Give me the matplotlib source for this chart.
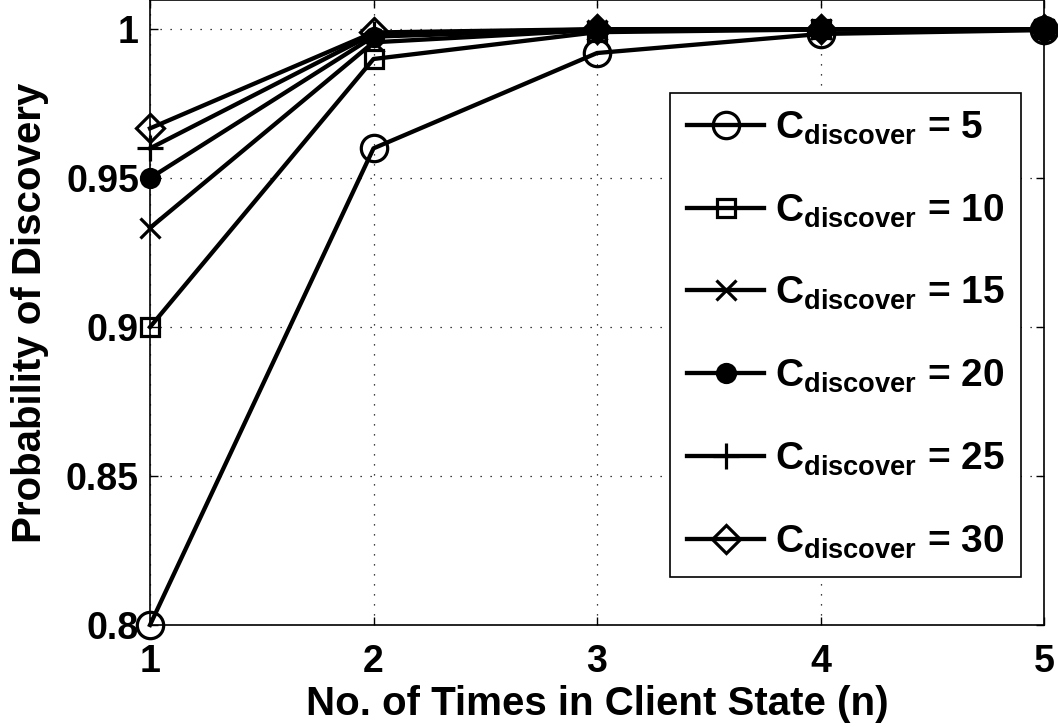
import numpy as np
import matplotlib
matplotlib.use("Agg")
import matplotlib.pyplot as plt

plt.rcParams['font.family'] = ['Liberation Sans', 'DejaVu Sans']
plt.rcParams['font.weight'] = 'bold'
plt.rcParams['mathtext.fontset'] = 'custom'
plt.rcParams['mathtext.bf'] = 'Liberation Sans:bold'
plt.rcParams['mathtext.rm'] = 'Liberation Sans:bold'
plt.rcParams['mathtext.it'] = 'Liberation Sans:bold'

# data
n_times = [1, 2, 3, 4, 5]
c_values = [5, 10, 15, 20, 25, 30]
p_c5 = [0.8, 0.96, 0.992, 0.9984, 0.9997]
p_c10 = [0.9, 0.99, 0.999, 0.9999, 1.0]
p_c15 = [0.9333, 0.9956, 0.9997, 1.0, 1.0]
p_c20 = [0.95, 0.9975, 0.9999, 1.0, 1.0]
p_c25 = [0.96, 0.9984, 0.9999, 1.0, 1.0]
p_c30 = [0.9667, 0.9989, 1.0, 1.0, 1.0]
series = [p_c5, p_c10, p_c15, p_c20, p_c25, p_c30]

y_ticks = [0.8, 0.85, 0.9, 0.95, 1.0]
y_ticklabels = ['0.8', '0.85', '0.9', '0.95', '1']

# marker, size, face
styles = [('o', 19, 'none'),
          ('s', 13, 'none'),
          ('x', 14, 'none'),
          ('o', 13, 'k'),
          ('+', 19, 'none'),
          ('D', 14, 'none')]

fig = plt.figure(figsize=(10.58, 7.27), dpi=100)
ax = fig.add_axes([150/1058, 102/727, 894/1058, 625/727])

for c, vals, (mk, ms, fc) in zip(c_values, series, styles):
    ax.plot(n_times, vals, color='k', lw=3.1, marker=mk, markersize=ms,
            markerfacecolor=fc, markeredgecolor='k', markeredgewidth=2.3,
            clip_on=False,
            label=r'$\mathbf{C}_{\mathbf{discover}}$' + ' = %d' % c)

ax.set_xlim(1, 5)
ax.set_ylim(0.8, 1.0098)
ax.set_xticks(n_times)
ax.set_yticks(y_ticks)
ax.set_yticklabels(y_ticklabels)

ax.grid(True, color='k', linestyle=(0, (1, 7)), linewidth=0.9)
ax.tick_params(direction='in', length=6, width=1, top=True, right=True,
               labelsize=27)
ax.tick_params(axis='x', pad=14)
ax.tick_params(axis='y', pad=8)
for s in ax.spines.values():
    s.set_linewidth(1.2)

ax.set_xlabel('No. of Times in Client State (n)', fontsize=29,
              fontweight='bold', labelpad=3)
ax.set_ylabel('Probability of Discovery', fontsize=29, fontweight='bold',
              labelpad=12)

leg = ax.legend(loc='upper left', bbox_to_anchor=(0.582, 0.851),
                fontsize=28, handlelength=2.0, handletextpad=0.26,
                labelspacing=1.17, borderpad=0.42, borderaxespad=0,
                fancybox=False, framealpha=1, edgecolor='k')
leg.get_frame().set_linewidth(1.2)

fig.savefig('out.png', dpi=100)
